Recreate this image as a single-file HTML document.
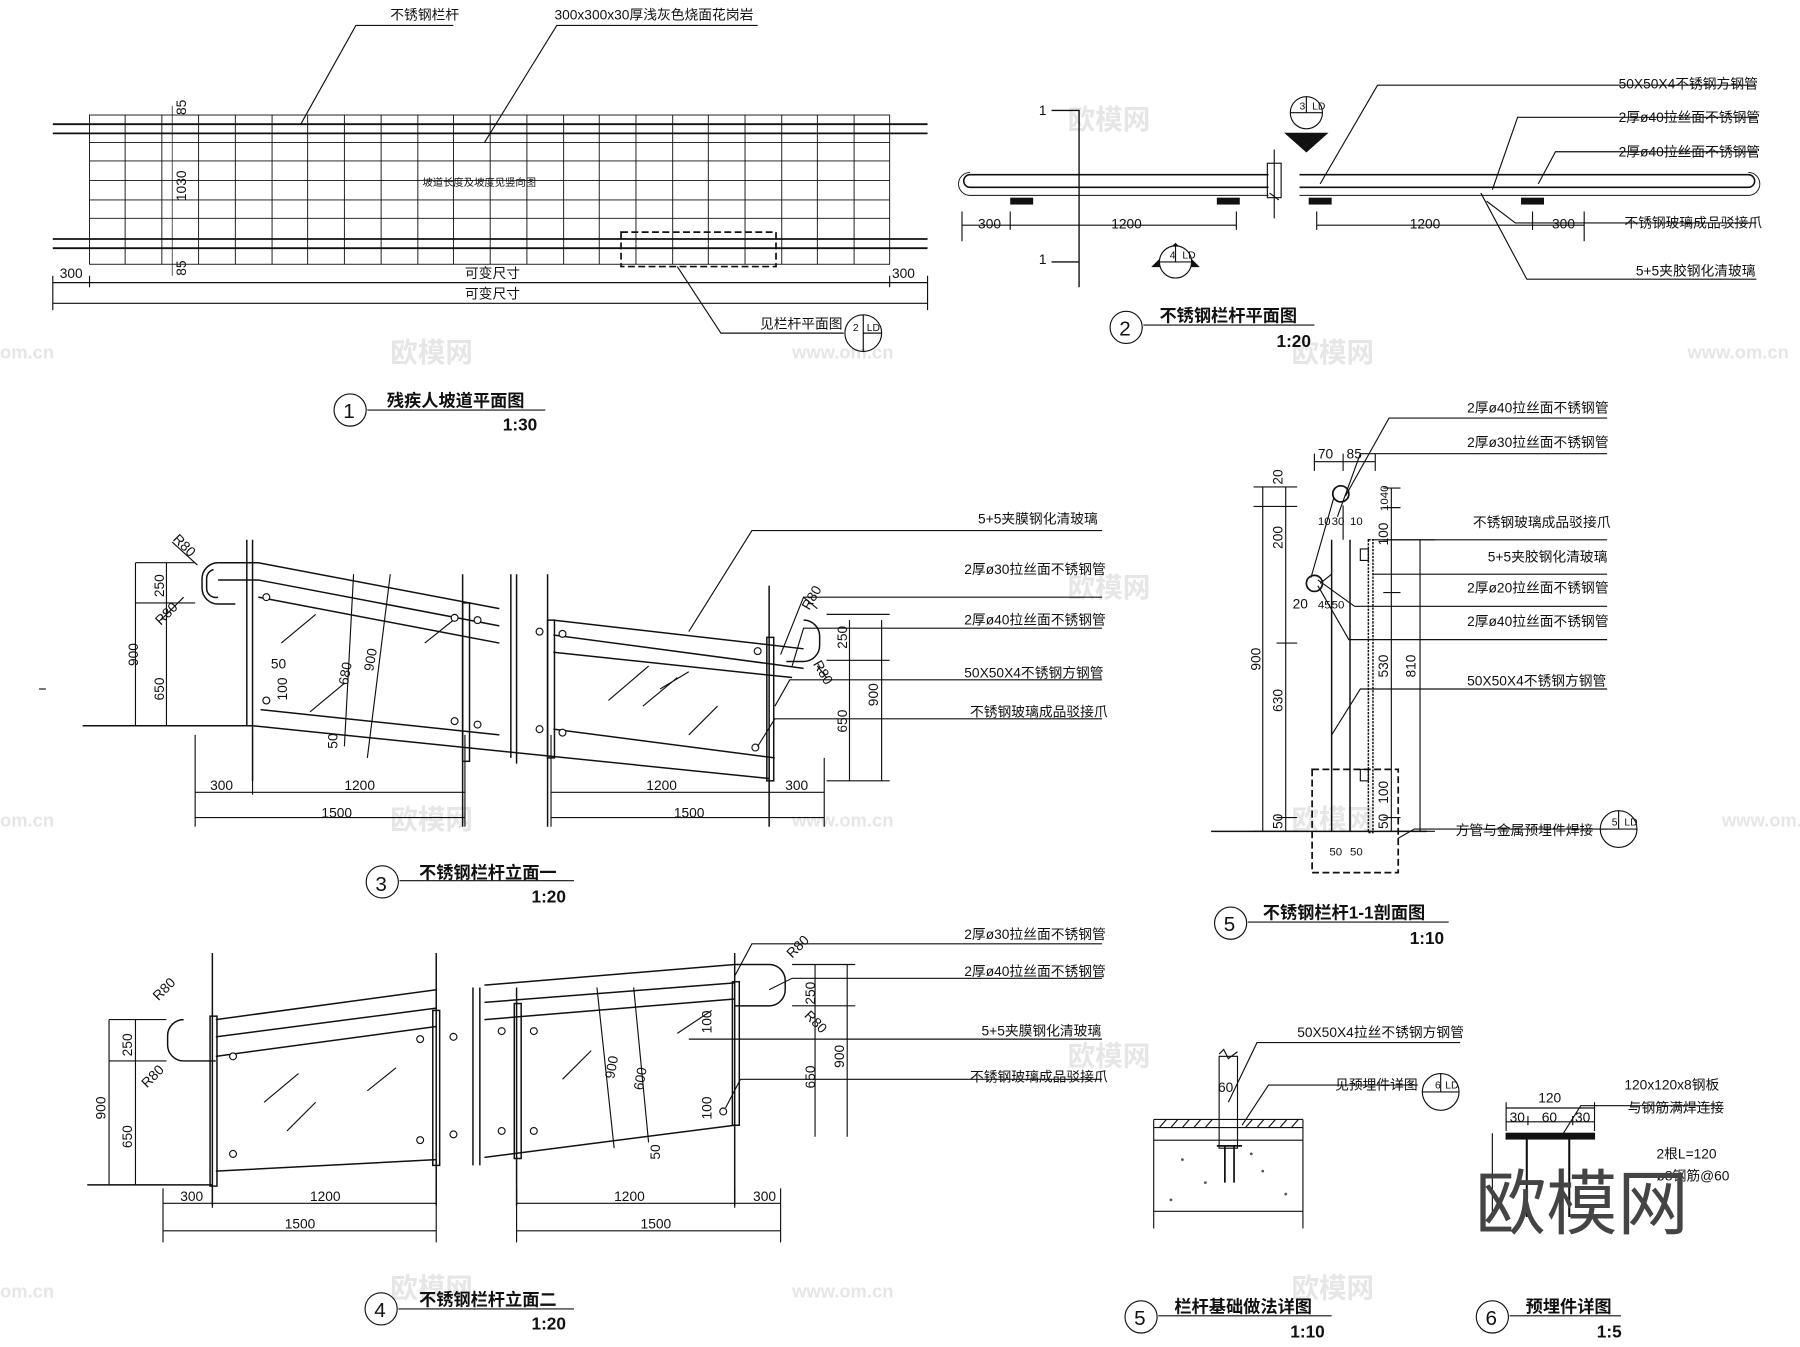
<!DOCTYPE html>
<html><head><meta charset="utf-8"><style>
html,body{margin:0;padding:0;background:#fff}
svg{display:block}
text{font-family:"Liberation Sans","Noto Sans CJK SC",sans-serif;fill:#111}
.t{font-size:12px}
.b{font-size:15px;font-weight:bold}
.wm{font-size:24px;fill:#e6e6e6;font-weight:bold}
</style></head><body>
<svg width="1800" height="1347" viewBox="0 0 1568 1173" xmlns="http://www.w3.org/2000/svg" stroke="#111" fill="none" stroke-width="1">
<!-- watermarks -->
<g stroke="none">
<text class="wm" x="930" y="112">欧模网</text><text class="wm" x="340" y="315">欧模网</text><text class="wm" x="1125" y="315">欧模网</text>
<text class="wm" x="0" y="312" style="font-size:16px">om.cn</text><text class="wm" x="690" y="312" style="font-size:16px">www.om.cn</text><text class="wm" x="1470" y="312" style="font-size:16px">www.om.cn</text>
<text class="wm" x="930" y="520">欧模网</text><text class="wm" x="340" y="722">欧模网</text><text class="wm" x="1125" y="722">欧模网</text>
<text class="wm" x="930" y="928">欧模网</text><text class="wm" x="340" y="1130">欧模网</text><text class="wm" x="1125" y="1130">欧模网</text>
<text class="wm" x="0" y="720" style="font-size:16px">om.cn</text><text class="wm" x="690" y="720" style="font-size:16px">www.om.cn</text><text class="wm" x="1500" y="720" style="font-size:16px">www.om.cn</text>
<text class="wm" x="0" y="1130" style="font-size:16px">om.cn</text><text class="wm" x="690" y="1130" style="font-size:16px">www.om.cn</text>
</g>

<!-- ===== Drawing 1 ===== -->
<g stroke-width="0.8">
<rect x="78" y="100" width="697" height="130"/>
<path d="M109 100V230M141 100V230M173 100V230M205 100V230M237 100V230M268 100V230M300 100V230M332 100V230M364 100V230M395 100V230M427 100V230M459 100V230M491 100V230M522 100V230M554 100V230M586 100V230M617 100V230M649 100V230M681 100V230M712 100V230M744 100V230"/>
<path d="M78 124H775M78 140H775M78 157H775M78 174H775M78 190H775"/>
</g>
<g stroke-width="1.6"><path d="M46 108H808M46 116H808M46 208H808M46 216H808"/></g>
<path d="M150 92V240" stroke-width="0.6"/>
<rect x="541" y="202" width="135" height="30" stroke-dasharray="6 3" stroke-width="1.5"/>
<path d="M46 240V270M78 240V250M775 240V250M808 240V270M46 246H808M46 264H808"/>
<path d="M262 108L310 22H395M422 124L485 22H660M590 232L628 290H735"/>
<circle cx="752" cy="290" r="16"/><path d="M752 274V306M752 290H768"/>
<g stroke="none">
<text class="t" x="340" y="17">不锈钢栏杆</text><text class="t" x="483" y="17">300x300x30厚浅灰色烧面花岗岩</text>
<text class="t" x="52" y="242">300</text><text class="t" x="777" y="242">300</text>
<text class="t" x="405" y="242">可变尺寸</text><text class="t" x="405" y="260">可变尺寸</text>
<text class="t" x="368" y="162" style="font-size:9px">坡道长度及坡度见竖向图</text>
<text class="t" x="662" y="286">见栏杆平面图</text>
<text class="t" x="743" y="288" style="font-size:9px">2</text><text class="t" x="755" y="288" style="font-size:9px">LD</text>
<text class="t" transform="translate(162 175) rotate(-90)">1030</text>
<text class="t" transform="translate(162 100) rotate(-90)">85</text>
<text class="t" transform="translate(162 240) rotate(-90)">85</text>
<text class="b" x="337" y="354">残疾人坡道平面图</text><text class="b" x="438" y="375">1:30</text>
<text x="299" y="364" style="font-size:18px">1</text>
</g>
<circle cx="305" cy="357" r="14"/><path d="M320 357H475"/>

<!-- ===== Drawing 2 ===== -->
<path d="M845 152H1105M845 163H1105M1132 152H1523M1132 163H1523M845 152A5.5 5.5 0 0 0 845 163M1523 152A5.5 5.5 0 0 1 1523 163" stroke-width="1.4"/>
<path d="M845 150A10 10 0 0 0 845 170H1105M1132 170H1523A10 10 0 0 0 1523 150" stroke-width="0.8"/>
<rect x="1104" y="142" width="12" height="30"/>
<path d="M1110 130V190M1106 168L1114 174" />
<g fill="#111" stroke="none"><rect x="880" y="172" width="20" height="6"/><rect x="1060" y="172" width="20" height="6"/><rect x="1140" y="172" width="20" height="6"/><rect x="1325" y="172" width="20" height="6"/></g>
<path d="M916 96H940V228H916M940 120V250" stroke-width="1.2"/>
<path d="M838 184V210M880 184V200M1077 184V200M1147 184V200M1335 184V200M1380 184V210M838 196H1077M1147 196H1380"/>
<path d="M1120 116L1138 132L1156 116Z" fill="#111"/><circle cx="1138" cy="98" r="14" fill="#fff"/><path d="M1124 98H1152M1138 84V98"/>
<path d="M1004 232L1024 212L1044 232Z" fill="#111"/><circle cx="1024" cy="228" r="14" fill="#fff"/><path d="M1010 228H1038M1024 214V228"/>
<path d="M1150 160L1200 74H1530M1300 165L1322 102H1530M1340 160L1355 132H1530M1295 175L1320 194H1530M1290 168L1330 243H1530"/>
<circle cx="981" cy="285" r="14"/><path d="M996 283H1145"/>
<g stroke="none">
<text class="t" x="905" y="100">1</text><text class="t" x="905" y="230">1</text>
<text class="t" x="852" y="199">300</text><text class="t" x="968" y="199">1200</text><text class="t" x="1228" y="199">1200</text><text class="t" x="1352" y="199">300</text>
<text class="t" x="1132" y="95" style="font-size:9px">3</text><text class="t" x="1143" y="95" style="font-size:9px">LD</text>
<text class="t" x="1019" y="225" style="font-size:9px">4</text><text class="t" x="1030" y="225" style="font-size:9px">LD</text>
<text class="t" x="1410" y="77">50X50X4不锈钢方钢管</text><text class="t" x="1410" y="106">2厚ø40拉丝面不锈钢管</text><text class="t" x="1410" y="136">2厚ø40拉丝面不锈钢管</text>
<text class="t" x="1415" y="198">不锈钢玻璃成品驳接爪</text><text class="t" x="1425" y="240">5+5夹胶钢化清玻璃</text>
<text x="975" y="292" style="font-size:18px">2</text>
<text class="b" x="1010" y="280">不锈钢栏杆平面图</text><text class="b" x="1112" y="302">1:20</text>
</g>

<!-- ===== Drawing 3 ===== -->
<g stroke-width="1.3">
<path d="M72 632H220L670 678"/>
<path d="M220 560V632M220 470V680M215 470V632"/>
<path d="M190 490H225L435 530M190 505H225L435 545M225 520L435 560M227 618L435 640M482 540L700 565M482 553L700 582M482 568L690 590M482 635L675 660"/>
<path d="M445 500V660M450 500V665"/>
<path d="M190 490A14 14 0 0 0 176 504V512A14 14 0 0 0 190 526H205M700 540A14 14 0 0 1 714 554V562A14 14 0 0 1 700 576H685"/>
<path d="M186 496A8 8 0 0 0 180 504V512A8 8 0 0 0 190 520"/>
<rect x="403" y="525" width="6" height="138"/><rect x="477" y="540" width="6" height="120"/><rect x="668" y="555" width="6" height="125"/>
<path d="M403 500V720M477 500V720M670 510V720"/>
</g>
<path d="M340 500L320 660M308 500L300 650" />
<path d="M245 560L275 535M270 620L300 595M370 560L395 540M530 610L565 580M560 615L590 590M575 600L600 585M600 640L625 615"/>
<g fill="#fff"><circle cx="232" cy="520" r="3"/><circle cx="232" cy="610" r="3"/><circle cx="396" cy="538" r="3"/><circle cx="416" cy="540" r="3"/><circle cx="396" cy="628" r="3"/><circle cx="416" cy="631" r="3"/><circle cx="470" cy="550" r="3"/><circle cx="490" cy="552" r="3"/><circle cx="470" cy="635" r="3"/><circle cx="490" cy="638" r="3"/><circle cx="660" cy="567" r="3"/><circle cx="658" cy="651" r="3"/></g>
<path d="M118 490V632M145 490V632M118 490H170M118 525H170M740 540V680M768 540V680M720 535H775M720 575H775M720 680H775"/>
<path d="M170 640V720M220 640V692M405 640V720M480 640V720M670 660V692M718 660V720M170 690H405M480 690H718M170 712H405M480 712H718"/>
<path d="M150 472L172 492M140 540L160 520M700 520L712 530M712 580L720 590"/>
<path d="M600 550L655 462H960M680 570L700 520H960M690 580L700 547H960M675 615L688 592H960M660 650L675 626H960"/>
<circle cx="333" cy="768" r="14"/><path d="M348 767H500"/>
<g stroke="none">
<text class="t" x="852" y="456">5+5夹膜钢化清玻璃</text><text class="t" x="840" y="500">2厚ø30拉丝面不锈钢管</text><text class="t" x="840" y="544">2厚ø40拉丝面不锈钢管</text>
<text class="t" x="840" y="590">50X50X4不锈钢方钢管</text><text class="t" x="845" y="624">不锈钢玻璃成品驳接爪</text>
<text class="t" x="183" y="688">300</text><text class="t" x="300" y="688">1200</text><text class="t" x="563" y="688">1200</text><text class="t" x="684" y="688">300</text>
<text class="t" x="280" y="712">1500</text><text class="t" x="587" y="712">1500</text>
<text class="t" transform="translate(120 580) rotate(-90)">900</text><text class="t" transform="translate(143 520) rotate(-90)">250</text><text class="t" transform="translate(143 610) rotate(-90)">650</text>
<text class="t" transform="translate(765 615) rotate(-90)">900</text><text class="t" transform="translate(738 565) rotate(-90)">250</text><text class="t" transform="translate(738 638) rotate(-90)">650</text>
<text class="t" transform="translate(150 470) rotate(45)">R80</text><text class="t" transform="translate(140 545) rotate(-45)">R80</text>
<text class="t" transform="translate(705 532) rotate(-60)">R80</text><text class="t" transform="translate(708 578) rotate(60)">R80</text>
<text class="t" transform="translate(303 597) rotate(-80)">680</text><text class="t" transform="translate(325 585) rotate(-80)">900</text>
<text class="t" x="236" y="582">50</text><text class="t" transform="translate(250 610) rotate(-90)">100</text><text class="t" transform="translate(294 652) rotate(-90)">50</text>
<text x="327" y="776" style="font-size:18px">3</text>
<text class="b" x="365" y="765">不锈钢栏杆立面一</text><text class="b" x="463" y="786">1:20</text>
</g>

<!-- ===== Drawing 4 ===== -->
<g stroke-width="1.3">
<path d="M76 1032H185"/>
<path d="M188 888L380 862M188 903L380 878M188 920L380 894M188 1020L380 1010M422 858L640 840M422 873L640 856M422 888L640 870M422 1008L640 980"/>
<path d="M160 888A14 14 0 0 0 146 902V910A14 14 0 0 0 160 924H188M640 840H670A14 14 0 0 1 684 854V862A14 14 0 0 1 670 876H640"/>
<rect x="183" y="885" width="6" height="148"/><rect x="377" y="880" width="6" height="135"/><rect x="448" y="874" width="6" height="135"/><rect x="638" y="855" width="6" height="125"/>
<path d="M185 830V1050M380 830V1050M412 860V1015M418 860V1015M450 860V1050M640 830V1050"/>
</g>
<path d="M520 860L535 1000M552 860L565 995"/>
<path d="M230 960L260 935M250 985L275 960M320 950L345 930M490 940L515 915M590 900L620 880"/>
<g fill="#fff"><circle cx="203" cy="920" r="3"/><circle cx="203" cy="1005" r="3"/><circle cx="366" cy="905" r="3"/><circle cx="366" cy="993" r="3"/><circle cx="395" cy="903" r="3"/><circle cx="395" cy="988" r="3"/><circle cx="437" cy="898" r="3"/><circle cx="437" cy="985" r="3"/><circle cx="465" cy="898" r="3"/><circle cx="465" cy="985" r="3"/><circle cx="630" cy="968" r="3"/></g>
<path d="M95 888V1032M118 888V1032M95 888H145M95 924H145M95 1032H145M710 840V990M738 840V990M690 840H745M690 876H745"/>
<path d="M142 1035V1082M185 1035V1052M380 1035V1082M450 1035V1082M640 1035V1052M680 1035V1082M142 1048H380M450 1048H680M142 1072H380M450 1072H680"/>
<path d="M640 850L655 822H960M670 862L690 852H960M600 905H960M632 965L645 940H960"/>
<circle cx="332" cy="1140" r="14"/><path d="M347 1140H500"/>
<g stroke="none">
<text class="t" x="840" y="818">2厚ø30拉丝面不锈钢管</text><text class="t" x="840" y="850">2厚ø40拉丝面不锈钢管</text>
<text class="t" x="855" y="902">5+5夹膜钢化清玻璃</text><text class="t" x="845" y="942">不锈钢玻璃成品驳接爪</text>
<text class="t" x="157" y="1046">300</text><text class="t" x="270" y="1046">1200</text><text class="t" x="535" y="1046">1200</text><text class="t" x="656" y="1046">300</text>
<text class="t" x="248" y="1070">1500</text><text class="t" x="558" y="1070">1500</text>
<text class="t" transform="translate(92 975) rotate(-90)">900</text><text class="t" transform="translate(115 920) rotate(-90)">250</text><text class="t" transform="translate(115 1000) rotate(-90)">650</text>
<text class="t" transform="translate(735 930) rotate(-90)">900</text><text class="t" transform="translate(710 875) rotate(-90)">250</text><text class="t" transform="translate(710 948) rotate(-90)">650</text>
<text class="t" transform="translate(138 872) rotate(-45)">R80</text><text class="t" transform="translate(128 948) rotate(-45)">R80</text>
<text class="t" transform="translate(690 835) rotate(-45)">R80</text><text class="t" transform="translate(700 885) rotate(45)">R80</text>
<text class="t" transform="translate(535 940) rotate(-80)">900</text><text class="t" transform="translate(560 950) rotate(-80)">600</text>
<text class="t" transform="translate(620 975) rotate(-90)">100</text><text class="t" transform="translate(620 900) rotate(-90)">100</text>
<text class="t" transform="translate(575 1010) rotate(-90)">50</text>
<text x="326" y="1147" style="font-size:18px">4</text>
<text class="b" x="365" y="1137">不锈钢栏杆立面二</text><text class="b" x="463" y="1158">1:20</text>
</g>

<!-- ===== Drawing 5 section ===== -->
<g>
<path d="M1055 724H1243" stroke-width="1.3"/>
<path d="M1100 424V724M1120 424V724M1092 424H1130M1092 441H1130M1112 560H1130M1112 712H1130M1092 724H1130"/>
<path d="M1160 470V724M1176 470V724" stroke-width="1.3"/>
<circle cx="1168" cy="430" r="7" stroke-width="1.5"/><circle cx="1145" cy="508" r="7" stroke-width="1.5"/>
<path d="M1162 433L1142 503M1170 470V440M1160 500L1150 508"/>
<rect x="1192" y="470" width="4" height="255" stroke-width="1.3" stroke-dasharray="2 1"/>
<rect x="1185" y="478" width="7" height="10" /><rect x="1185" y="670" width="7" height="10"/>
<rect x="1143" y="670" width="75" height="90" stroke-dasharray="6 3" stroke-width="1.5"/>
<path d="M1212 425V724M1237 470V724M1205 425H1220M1205 442H1220M1205 470H1250M1205 516H1220M1205 724H1250M1205 712H1220"/>
<path d="M1145 395V410M1170 395V410M1198 395V410M1145 402H1198"/>
<path d="M1172 432L1210 364H1400M1165 450L1185 395H1400M1196 470H1400M1196 500H1400M1148 505L1180 528H1400M1148 510L1175 557H1400M1160 640L1185 600H1400M1218 730L1232 722H1400"/>
<circle cx="1410" cy="722" r="16"/><path d="M1394 722H1426M1410 706V722"/>
<circle cx="1072" cy="804" r="14"/><path d="M1087 803H1262"/>
</g>
<g stroke="none">
<text class="t" x="1278" y="359">2厚ø40拉丝面不锈钢管</text><text class="t" x="1278" y="389">2厚ø30拉丝面不锈钢管</text>
<text class="t" x="1283" y="459">不锈钢玻璃成品驳接爪</text><text class="t" x="1296" y="489">5+5夹胶钢化清玻璃</text>
<text class="t" x="1278" y="516">2厚ø20拉丝面不锈钢管</text><text class="t" x="1278" y="545">2厚ø40拉丝面不锈钢管</text>
<text class="t" x="1278" y="597">50X50X4不锈钢方钢管</text><text class="t" x="1268" y="727">方管与金属预埋件焊接</text>
<text class="t" x="1148" y="399">70</text><text class="t" x="1173" y="399">85</text>
<text class="t" x="1148" y="457" style="font-size:10px">10</text><text class="t" x="1160" y="457" style="font-size:10px">30</text><text class="t" x="1176" y="457" style="font-size:10px">10</text>
<text class="t" x="1126" y="530">20</text><text class="t" x="1148" y="530" style="font-size:10px">45</text><text class="t" x="1160" y="530" style="font-size:10px">50</text>
<text class="t" x="1158" y="745" style="font-size:10px">50</text><text class="t" x="1176" y="745" style="font-size:10px">50</text>
<text class="t" transform="translate(1098 584) rotate(-90)">900</text><text class="t" transform="translate(1117 422) rotate(-90)">20</text>
<text class="t" transform="translate(1117 478) rotate(-90)">200</text><text class="t" transform="translate(1117 620) rotate(-90)">630</text><text class="t" transform="translate(1117 722) rotate(-90)">50</text>
<text class="t" transform="translate(1209 590) rotate(-90)">530</text><text class="t" transform="translate(1233 590) rotate(-90)">810</text>
<text class="t" transform="translate(1209 475) rotate(-90)">100</text><text class="t" transform="translate(1209 700) rotate(-90)">100</text><text class="t" transform="translate(1209 722) rotate(-90)">50</text>
<text class="t" transform="translate(1209 445) rotate(-90)" style="font-size:10px">1040</text>
<text class="t" x="1404" y="719" style="font-size:9px">5</text><text class="t" x="1415" y="719" style="font-size:9px">LD</text>
<text x="1066" y="811" style="font-size:18px">5</text>
<text class="b" x="1100" y="800">不锈钢栏杆1-1剖面图</text><text class="b" x="1228" y="822">1:10</text>
</g>

<!-- ===== Foundation detail ===== -->
<g>
<rect x="1062" y="920" width="16" height="80"/><path d="M1062 918L1066 914L1070 922L1078 916" />
<path d="M1005 975H1135M1005 982H1135M1005 993H1135M1005 1055H1135M1005 975V1070M1135 975V1070"/>
<path d="M1010 982L1016 975M1020 982L1026 975M1030 982L1036 975M1040 982L1046 975M1050 982L1056 975M1085 982L1091 975M1095 982L1101 975M1105 982L1111 975M1115 982L1121 975M1125 982L1131 975"/>
<path d="M1067 998V1030M1075 998V1030M1060 998H1082" stroke-width="1.5"/>
<path d="M1070 960L1095 908H1272M1082 980L1105 945H1235"/>
<circle cx="1255" cy="951" r="16"/><path d="M1239 951H1271M1255 935V951"/>
<circle cx="994" cy="1147" r="14"/><path d="M1009 1146H1160"/>
</g>
<g stroke="none" fill="#555">
<circle cx="1030" cy="1010" r="1.2"/><circle cx="1050" cy="1030" r="1.2"/><circle cx="1100" cy="1020" r="1.2"/><circle cx="1120" cy="1040" r="1.2"/><circle cx="1020" cy="1045" r="1.2"/><circle cx="1090" cy="1005" r="1.2"/>
</g>
<g stroke="none">
<text class="t" x="1130" y="903">50X50X4拉丝不锈钢方钢管</text><text class="t" x="1163" y="949">见预埋件详图</text>
<text class="t" x="1061" y="951">60</text>
<text class="t" x="1250" y="948" style="font-size:9px">6</text><text class="t" x="1259" y="948" style="font-size:9px">LD</text>
<text x="988" y="1154" style="font-size:18px">5</text>
<text class="b" x="1023" y="1143">栏杆基础做法详图</text><text class="b" x="1124" y="1165">1:10</text>
</g>

<!-- ===== Embedded part detail ===== -->
<g>
<rect x="1312" y="987" width="77" height="5" fill="#111"/>
<path d="M1330 992V1060M1367 992V1060" stroke-width="1.8"/>
<path d="M1312 965H1389M1312 977H1389M1312 960V985M1389 960V985M1331 972V980M1370 972V980M1300 987V1060M1360 990L1377 963H1500"/>
</g>
<circle cx="1300" cy="1147" r="14"/><path d="M1315 1146H1412"/>
<g stroke="none">
<text class="t" x="1340" y="960">120</text><text class="t" x="1315" y="977">30</text><text class="t" x="1343" y="977">60</text><text class="t" x="1372" y="977">30</text>
<text class="t" x="1415" y="949">120x120x8钢板</text><text class="t" x="1418" y="969">与钢筋满焊连接</text>
<text class="t" x="1443" y="1009">2根L=120</text><text class="t" x="1443" y="1028">ø8钢筋@60</text>
<text x="1285" y="1070" style="font-size:62px;fill:#444">欧模网</text>
<text x="1294" y="1154" style="font-size:18px">6</text>
<text class="b" x="1329" y="1143">预埋件详图</text><text class="b" x="1391" y="1165">1:5</text>
</g>
<path d="M34 600H40"/>
</svg>
</body></html>
